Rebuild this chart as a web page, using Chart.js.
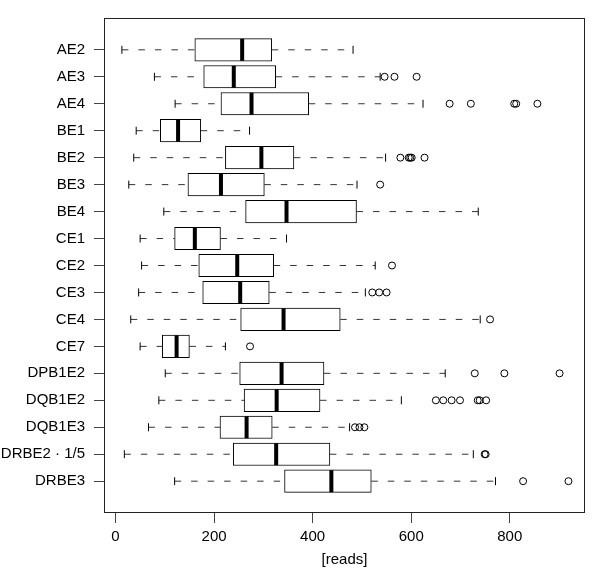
<!DOCTYPE html>
<html>
<head>
<meta charset="utf-8">
<script src="https://cdn.jsdelivr.net/npm/chart.js@4/dist/chart.umd.min.js"></script>
<style>
  html, body { margin: 0; padding: 0; background: #fff; }
  #wrap { width: 600px; height: 569px; }
</style>
</head>
<body>
<div id="wrap"><canvas id="c" width="600" height="569"></canvas></div>
<script>
const categories = ["AE2","AE3","AE4","BE1","BE2","BE3","BE4","CE1","CE2","CE3","CE4","CE7","DPB1E2","DQB1E2","DQB1E3","DRBE2 · 1/5","DRBE3"];
const whiskerLow  = [13, 79, 121, 42, 37, 27, 98, 50, 53, 47, 31, 50, 101, 88, 67, 18, 120];
const quartile1   = [161, 179, 214, 91, 223, 147, 264, 120, 169, 177, 254, 95, 252, 261, 212, 239, 343];
const medians     = [257, 240, 276, 127, 296, 214, 347, 161, 247, 253, 341, 124, 337, 327, 266, 326, 438];
const quartile3   = [317, 325, 392, 173, 362, 302, 489, 213, 321, 312, 456, 150, 423, 415, 318, 435, 519];
const whiskerHigh = [482, 537, 624, 272, 548, 490, 736, 347, 527, 507, 740, 223, 669, 580, 475, 726, 771];
const outliers = [
  [],
  [546, 566, 611],
  [678, 721, 809, 813, 856],
  [],
  [578, 595, 598, 601, 627],
  [537],
  [],
  [],
  [561],
  [521, 535, 550],
  [760],
  [273],
  [729, 789, 901],
  [650, 665, 682, 699, 735, 739, 752],
  [486, 495, 505],
  [749, 751],
  [827, 919]
];
const xTicks = [0, 200, 400, 600, 800];
const xTitle = "[reads]";

const FONT = { family: "'Liberation Sans', Arial, Helvetica, sans-serif", size: 15 };

const boxData = categories.map((c, i) => ({ x: [quartile1[i], quartile3[i]], y: i + 1 }));
const medianData = categories.map((c, i) => ({ x: medians[i], y: i + 1 }));
const whiskerData = [];
const stapleData = [];
categories.forEach((c, i) => {
  whiskerData.push({ x: whiskerLow[i], y: i + 1 }, { x: quartile1[i], y: i + 1 }, { x: null, y: null });
  whiskerData.push({ x: quartile3[i], y: i + 1 }, { x: whiskerHigh[i], y: i + 1 }, { x: null, y: null });
  stapleData.push({ x: whiskerLow[i], y: i + 1 }, { x: whiskerHigh[i], y: i + 1 });
});
const outlierData = [];
outliers.forEach((arr, i) => arr.forEach(v => outlierData.push({ x: v, y: i + 1 })));

const framePlugin = {
  id: 'frame',
  beforeDatasetsDraw(chart) {
    const a = chart.chartArea, ctx = chart.ctx;
    ctx.save();
    ctx.strokeStyle = '#222';
    ctx.lineWidth = 1;
    ctx.strokeRect(a.left + 0.5, a.top + 0.5, a.right - a.left - 1, a.bottom - a.top - 1);
    ctx.restore();
  }
};

new Chart(document.getElementById('c'), {
  type: 'bar',
  data: {
    datasets: [
      {
        type: 'scatter',
        label: 'whiskers',
        data: whiskerData,
        showLine: true,
        spanGaps: false,
        borderColor: '#333',
        borderWidth: 1,
        borderDash: [6.5, 10],
        pointRadius: 0,
        order: 4
      },
      {
        type: 'scatter',
        label: 'staples',
        data: stapleData,
        pointStyle: 'line',
        pointRotation: 90,
        pointRadius: 4,
        pointBorderWidth: 1,
        pointBorderColor: '#000',
        order: 3
      },
      {
        type: 'bar',
        label: 'boxes',
        indexAxis: 'y',
        data: boxData,
        backgroundColor: '#fff',
        borderColor: '#000',
        borderWidth: 1,
        borderSkipped: false,
        barThickness: 22.5,
        order: 2
      },
      {
        type: 'scatter',
        label: 'medians',
        data: medianData,
        pointStyle: 'line',
        pointRotation: 90,
        pointRadius: 11,
        pointBorderWidth: 4,
        pointBorderColor: '#000',
        order: 1
      },
      {
        type: 'scatter',
        label: 'outliers',
        data: outlierData,
        pointStyle: 'circle',
        pointRadius: 3.5,
        pointBorderWidth: 1,
        pointBorderColor: '#000',
        pointBackgroundColor: 'rgba(0,0,0,0)',
        order: 0
      }
    ]
  },
  options: {
    responsive: false,
    animation: false,
    devicePixelRatio: 1,
    events: [],
    layout: { padding: { top: 1, right: 2, bottom: 0, left: 0 } },
    plugins: { legend: { display: false }, tooltip: { enabled: false } },
    scales: {
      x: {
        type: 'linear',
        position: 'bottom',
        offset: false,
        min: -23.3,
        max: 952.6,
        afterBuildTicks(scale) { scale.ticks = xTicks.map(v => ({ value: v })); },
        afterFit(scale) { scale.height = 56; },
        ticks: { color: '#000', font: FONT, padding: 5, maxRotation: 0, autoSkip: false },
        grid: { offset: false, drawOnChartArea: false, drawTicks: true, tickLength: 10, color: '#444' },
        border: { display: false },
        title: { display: true, text: xTitle, color: '#000', font: FONT, padding: { top: 0, bottom: 0 } }
      },
      y: {
        type: 'linear',
        position: 'left',
        offset: false,
        reverse: true,
        min: -0.18,
        max: 18.18,
        afterBuildTicks(scale) { scale.ticks = categories.map((c, i) => ({ value: i + 1 })); },
        afterFit(scale) { scale.width = 104; },
        ticks: {
          color: '#000', font: FONT, padding: 9, autoSkip: false,
          callback(value, index) { return categories[index]; }
        },
        grid: { offset: false, drawOnChartArea: false, drawTicks: true, tickLength: 10, color: '#444' },
        border: { display: false }
      }
    }
  },
  plugins: [framePlugin]
});
</script>
</body>
</html>
